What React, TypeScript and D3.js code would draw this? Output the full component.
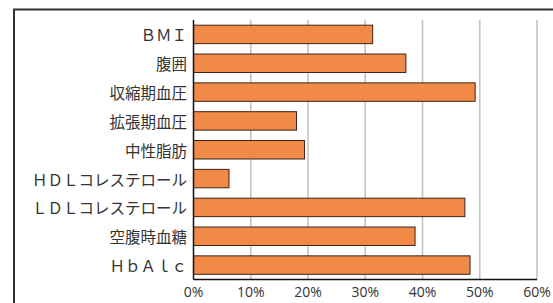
import React from "react";
import * as d3 from "d3";

const categories = ["ＢＭＩ", "腹囲", "収縮期血圧", "拡張期血圧", "中性脂肪", "ＨＤＬコレステロール", "ＬＤＬコレステロール", "空腹時血糖", "ＨｂＡｌｃ"];
const values = [31.3, 37.1, 49.2, 18.0, 19.4, 6.2, 47.4, 38.7, 48.3];
const ticks = [0, 10, 20, 30, 40, 50, 60];

const W = 553, H = 303;
const left = 193.5, right = 537, top = 20, bottom = 279.5;

export default function App() {
  const x = d3.scaleLinear().domain([0, 60]).range([left, right]);
  const y = d3.scaleBand<string>().domain(categories).range([top, bottom]).paddingInner(0.36).paddingOuter(0.18);
  return (
    <svg width={W} height={H} style={{ position: "absolute", left: 0, top: 0 }}>
      <rect x={0} y={0} width={W} height={H} fill="#fff" />
      <path d={`M14,${H + 5} V9.5 H${W + 5}`} fill="none" stroke="#333" strokeWidth={2} />
      {ticks.filter(t => t > 0).map(t => (
        <line key={t} x1={x(t)} x2={x(t)} y1={top} y2={bottom} stroke="#c4c4c4" strokeWidth={1.6} />
      ))}
      {categories.map((c, i) => (
        <rect key={c} x={x(0)} y={y(c)!} width={x(values[i]) - x(0)} height={y.bandwidth()} fill="#F28A47" stroke="#3a2418" strokeWidth={1} />
      ))}
      <line x1={left} x2={left} y1={top} y2={bottom} stroke="#111" strokeWidth={1.5} />
      <line x1={left} x2={right} y1={bottom} y2={bottom} stroke="#111" strokeWidth={1.5} />
      {categories.map(c => (
        <text key={c} x={187} y={y(c)! + y.bandwidth() / 2} textAnchor="end" dominantBaseline="central"
          fontFamily="'Noto Sans CJK JP', sans-serif" fontSize={15.5} fill="#333">{c}</text>
      ))}
      {ticks.map(t => (
        <text key={t} x={x(t)} y={297} textAnchor="middle" fontFamily="'Open Sans', sans-serif" fontSize={14} fill="#333">{t}%</text>
      ))}
    </svg>
  );
}
